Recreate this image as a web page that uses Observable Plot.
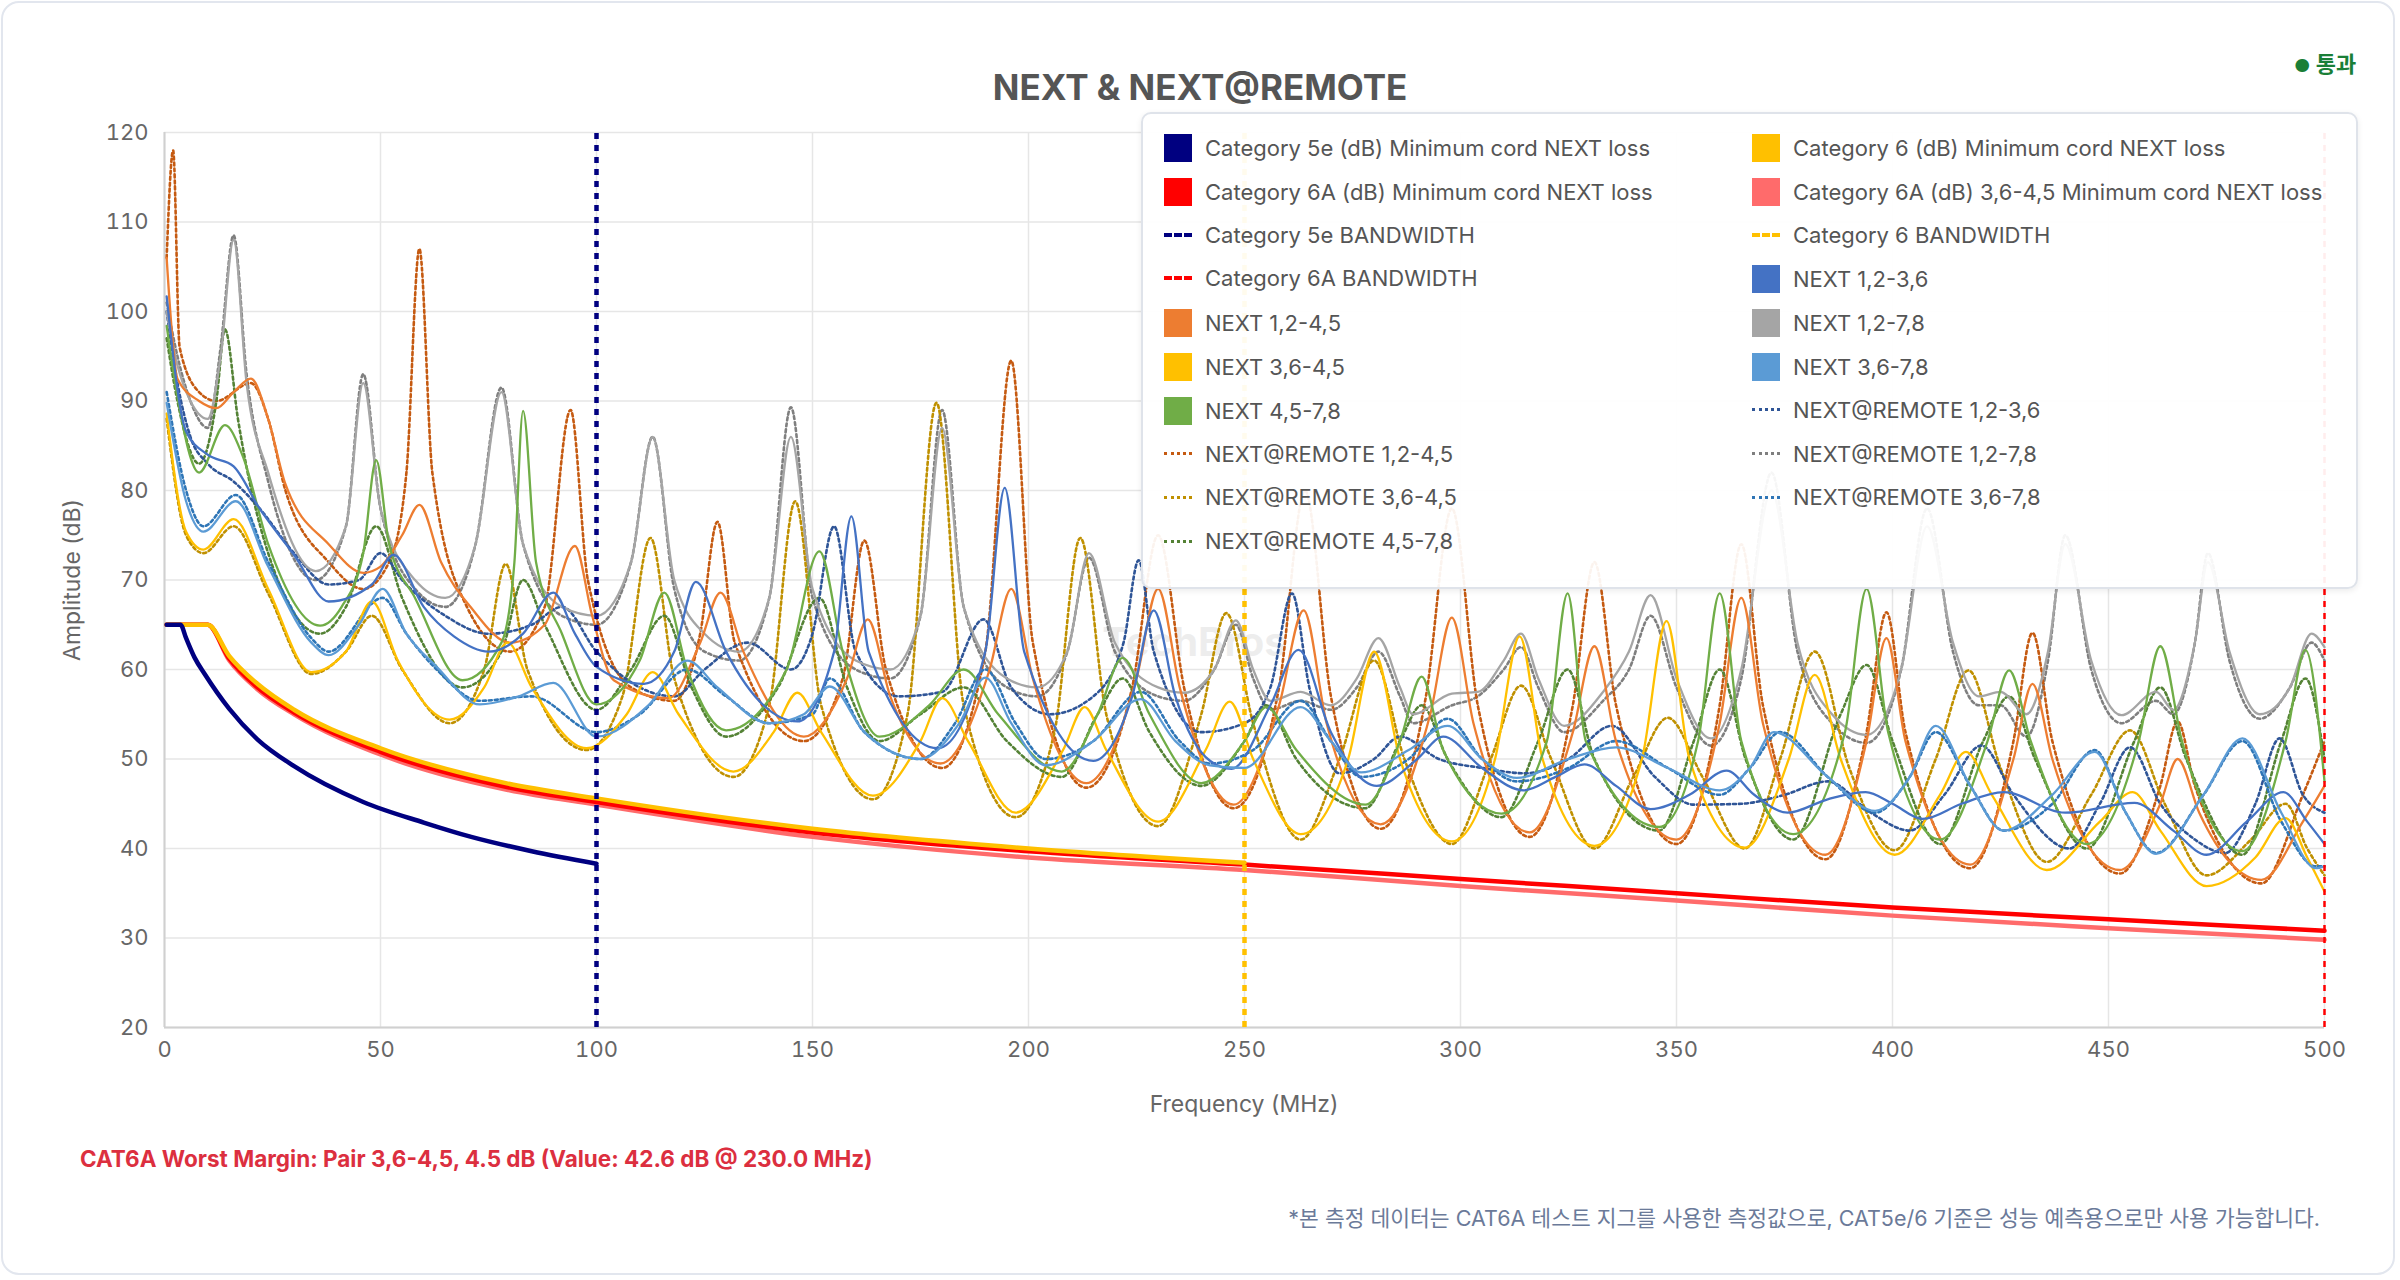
<!DOCTYPE html>
<html><head><meta charset="utf-8">
<script src="https://cdn.jsdelivr.net/npm/d3@7"></script>
<script src="https://cdn.jsdelivr.net/npm/@observablehq/plot@0.6"></script>
<style>
body{margin:0;background:#fff;font-family:Inter,"Noto Sans CJK KR",sans-serif;}
#wrap{position:relative;width:2400px;height:1280px;overflow:hidden;}
#card{position:absolute;left:1px;top:1px;width:2394px;height:1274px;border:2px solid #e2e6ee;border-radius:18px;box-sizing:border-box;}
.abs{position:absolute;white-space:nowrap;}
#legend{position:absolute;left:1141px;top:112px;width:1217px;height:477px;background:rgba(255,255,255,0.93);border:2px solid #dfe3ea;border-radius:10px;box-sizing:border-box;box-shadow:0 2px 6px rgba(0,0,0,0.08);}
.li{position:absolute;font-size:22px;color:#555;display:flex;align-items:center;}
.sw{width:28px;height:28px;margin-right:13px;}
.ln{width:28px;height:0;margin-right:13px;}
</style></head><body>
<div id="wrap"><div id="card"></div><div id="chart" class="abs" style="left:0;top:0"></div></div>
<script>
const freqTicks = [0,50,100,150,200,250,300,350,400,450,500];
const dbTicks = [20,30,40,50,60,70,80,90,100,110,120];
const bandwidth = [100,250,500];
const cat5e = [[0.5,65],[3.7,65],[5,63.5],[7,61.3],[9.3,59.5],[15,55.6],[21.5,52.2],[30,49.2],[46,45.2],[60,42.9],[71,41.3],[85,39.7],[100,38.3]];
const cat6 = [[0.5,65],[10,65],[15,61.5],[21.5,58.4],[30,55.5],[50,51.2],[79,47.3],[100,45.6],[150,42.2],[200,40],[250,38.4]];
const cat6A = [[0.5,65],[10,65],[15,61.2],[21.5,58],[30,55.2],[50,50.8],[79,46.9],[100,45.2],[150,41.8],[200,39.7],[250,38.2],[300,36.6],[350,35.0],[400,33.4],[450,32.1],[500,30.8]];
const cat6A_3645 = [[0.5,65],[10,65],[15,61],[21.5,57.8],[30,55],[50,50.5],[79,46.6],[100,44.9],[150,41.3],[200,39],[250,37.6],[300,35.8],[350,34.2],[400,32.5],[450,31.1],[500,29.8]];
const next12_36 = [[0.5,101.7],[5,86.6],[10,84],[16,82.7],[22,78],[30,72.8],[38,67.6],[48,69.5],[53,72.8],[60,67],[67,63.7],[75,62],[83,64],[90,68.6],[95,64],[100,60.3],[111,58.4],[118,62],[123,69.8],[130,62],[146.5,54.2],[155,62],[159,77.1],[163,62],[179,51.2],[190,62],[194.5,80.3],[199,62],[215,49.8],[224,57],[229,66.6],[234,57],[242,49.8],[247,48.9],[256,56],[262.5,62.2],[270,53],[280.6,47],[290,50],[296,52.5],[305,49],[314.6,46.5],[322,48],[328.7,49.4],[336,47],[344,44.4],[353,46],[361.6,48.7],[368,46],[375.7,44],[385,45.5],[393.8,46.3],[400,45],[407,43.3],[416,45],[425.7,46.3],[440,44],[456,45.1],[465,42],[472.7,39.3],[482,43],[490.5,46.3],[496,43],[500,40.5]];
const next12_45 = [[0.5,106],[3,92.5],[8,90],[12,89.2],[16,91],[20,92.5],[24,88],[28,80.7],[38,74],[46,70.8],[50,71.5],[55,75],[59,78.4],[64,72],[71,66.9],[80,63],[88,65],[95,73.8],[99,66],[104,58.8],[116.7,56.8],[124,63],[128.7,68.6],[134,62],[148,52.5],[158,59],[162.8,65.6],[168,57],[179.6,49.5],[191,60],[196,69],[201,59],[213.4,47.3],[225,59],[230,69],[235,58],[247.5,44.9],[258,56],[263.7,66.6],[269,54],[281.5,42.7],[293,55],[298,65.8],[303,54],[316,41.8],[326,53],[331,62.6],[336,52],[350,41],[360,54],[365,68],[370,54],[384.5,39.3],[394,52],[398.6,63.5],[403,52],[418,38.2],[428,50],[432.4,58.4],[437,50],[452.6,37.6],[462,45],[466,50],[471,44],[485.4,36.5],[495,43],[500,47]];
const next12_78 = [[0.5,100],[3,94],[6,90],[10,88],[13,95],[16,108],[19,92],[24,82],[35,71],[42,76],[46,92],[50,78],[58,70],[65,68],[72,74],[78,91],[83,74],[92,67],[100,66],[108,72],[113,86],[118,70],[125,64],[133,62],[140,68],[145,86],[150,69],[160,61],[168,60],[175,66],[180,87],[185,67],[195,59],[202,58],[209,62],[214,73],[220,63],[230,58],[236,57.4],[243,60],[248,65.5],[252,60],[256,56.5],[263,57.5],[270,56],[276,59],[281,63.5],[286,58],[289,55],[298,57.3],[304,57.5],[310,61],[314,64],[318,59],[324,53.7],[333,57.5],[339,62],[344,68.3],[350,59],[358,52.3],[365,60],[372,80],[378,63],[386,55],[394,52.7],[402,60],[408,76],[414,63],[420,57],[425,57.5],[431,55],[436,62],[440,74],[446,61],[453,54.9],[461,57.5],[465,55.5],[470,63],[473,72],[478,62],[485,55],[492,58],[497,64],[500,62.5]];
const next36_45 = [[0.5,88.6],[5,75.4],[9,73.4],[16,76.8],[24,69],[34,59.7],[42,62],[48,67.6],[54,61],[66,54.4],[74,58],[79.4,63],[85,58],[97.7,51.2],[107,55],[113,59.7],[119,55],[131.7,48.6],[141,53],[146.5,57.4],[152,53],[164,45.9],[175,52],[180,56.8],[186,52],[197,44],[208,51],[213,55.8],[218,51],[230,43],[241,51],[246.6,56.4],[252,50],[263,41.6],[274,50],[280,62],[286,50],[298,40.8],[308,50],[313.7,63.7],[319,50],[331,40.3],[342,50],[347.7,65.4],[353,50],[365.8,40.1],[376,50],[382,59.4],[388,50],[400.5,39.3],[411,46],[417,50.8],[423,46],[435.7,37.6],[448,43],[455.6,46.3],[462,42],[472.7,35.8],[484,39],[491,43.4],[496,39],[500,35.2]];
const next36_78 = [[0.5,89.8],[5,78.8],[9,75.4],[16.5,78.8],[24,71.5],[34,63],[38,61.6],[45,65],[50.5,69],[56,64],[63,60.3],[73,56.1],[82,57],[90,58.5],[100,52.5],[112,56],[121,61],[128,58],[140,54],[148,55],[154,58.1],[162,53],[175,50],[184,54],[190,59.1],[196,54],[204,49.3],[215,52],[226,56.7],[234,52],[242,49.3],[250,49],[263,55.8],[270,52],[277,48.5],[288,51],[297,53.7],[305,50],[313,47.9],[325,50],[336,51.3],[348,49],[360,46.5],[367,49],[372.5,53],[385,48],[396,44.2],[404,48],[410,53.7],[418,47],[425.7,42],[437,46],[446.8,50.8],[454,44],[461,39.4],[472,46],[481,52.3],[490,44],[498,37.8],[500,38]];
const next45_78 = [[0.5,98.4],[3,90.5],[8,82],[14,87.3],[18,84],[24,74],[36,64.9],[41,67],[46,73],[49,83.4],[52,74],[58,68],[69,58.8],[78,63],[81,72],[83,88.9],[86,72],[92,64],[100,56.1],[110,61],[115.7,68.6],[121,60],[130,53.2],[144,60],[151.6,73.2],[157,62],[165.5,52.5],[177,56],[185,60],[193,55],[207.7,48.6],[216,55],[221.8,61.3],[228,55],[240,47.3],[250,52],[255,55.8],[262,51],[278,44.9],[286,52],[291,59.2],[296,51],[309.5,43.9],[320,52],[324.8,68.5],[329,52],[346,42.4],[355,52],[360,68.5],[365,52],[377,41.6],[389,53],[394,69],[399,53],[411,41],[422,52],[427,59.9],[432,52],[445,40.5],[457,52],[462,62.6],[467,52],[481,39.7],[491,52],[495.6,62.2],[500,47.5]];
const remote12_36 = [[0.5,100],[3,92],[6,86],[10,83],[16,81],[22,78],[30,73],[38,69.5],[45,70],[50,73],[55,70],[65,66],[75,64],[85,65],[92,67],[100,62],[110,58],[118,57],[125,60],[135,63],[145,60],[150,64],[155,76],[160,62],[170,57],[180,57.5],[189.6,65.6],[196,58],[205,55],[215,57],[222,63],[225.5,72.2],[229,62],[240,53],[250,54],[256,58],[261,68.5],[265,58],[272,48.4],[280,50],[286,52.5],[295,50],[305,49],[315,48.4],[325,50],[335,53.7],[345,48],[354,44.9],[365,45],[375,46],[385,47.5],[395,44],[404,42],[412,46],[420.6,51.5],[428,46],[441,40],[448,45],[455,51.3],[462,45],[470,41],[477,39.5],[484,45],[489.6,52.3],[495,46],[500,44]];
const remote12_45 = [[0.5,106],[2,118],[3.5,96],[8,91],[12,90],[20,92],[24,88],[28,80],[38,72],[46,69],[52,72],[56,82],[59,107],[62,82],[70,67],[80,62],[88,67],[94,89],[98,70],[108,58],[118,56.5],[124,64],[128,76.5],[132,63],[148,52],[157,59],[162,74.4],[167,60],[180,49],[190,62],[196,94.5],[201,63],[213.4,46.8],[224,58],[230,75],[236,58],[247.5,44.5],[258,58],[264,80],[270,57],[281.5,42.2],[292,57],[298,78],[304,56],[316,41.3],[326,56],[331,72],[336,56],[350,40.5],[360,56],[365,74],[370,56],[384.5,38.8],[394,53],[398.6,66.4],[403,53],[418,37.8],[428,52],[432.4,64.1],[437,52],[452.6,37.2],[462,47],[466,54.2],[470,47],[485.4,36.1],[495,46],[500,52]];
const remote12_78 = [[0.5,101],[3,95],[6,90],[10,87],[13,96],[16,108.5],[19,93],[24,81],[35,70],[42,76],[46,93],[50,78],[58,69],[65,67],[72,74],[78,91.5],[83,74],[92,66],[100,65],[108,72],[113,86],[118,69],[125,62],[133,61],[140,68],[145,89.3],[150,68],[160,60],[168,59],[175,66],[180,89],[185,67],[195,58],[202,57],[209,62],[214,72.5],[220,62],[230,57],[236,56.5],[243,60],[248,65],[252,59],[256,55.5],[263,56.5],[270,55.5],[276,58],[281,62],[286,57],[289,54],[298,56],[304,57],[310,60],[314,62.5],[318,58],[324,53],[333,56.5],[339,60],[344,66],[350,58],[358,51.5],[365,59],[372,82],[378,62],[386,54],[394,51.8],[402,60],[408,78],[414,62],[420,56],[425,56],[431,52.5],[436,61],[440,75],[446,60],[453,54],[461,56.5],[465,55],[470,63],[473,73],[478,61],[485,54.5],[492,58],[497,63],[500,61]];
const remote36_45 = [[0.5,88],[5,75],[9,73],[16,76],[24,68.5],[34,59.5],[42,62],[48,66],[55,60],[66,54],[74,60],[79,71.8],[84,60],[97.7,51],[106,57],[112.5,74.7],[118,59],[131.7,48],[140,56],[146,78.8],[152,56],[164,45.5],[172,55],[178.7,89.8],[185,56],[197,43.5],[206,53],[212,74.7],[218,55],[230,42.5],[240,55],[245.8,66.3],[252,54],[263,41],[272,50],[280,61],[287,50],[298,40.5],[307,50],[314,58.2],[321,50],[331,40],[340,48],[348,54.6],[356,48],[365.8,40],[374,50],[382,62],[390,49],[400.5,39.8],[410,50],[417.6,59.9],[425,49],[435.7,38.5],[446,46],[455,53.2],[463,45],[472.7,37],[483,41],[491,45],[496,40],[500,37]];
const remote36_78 = [[0.5,91],[5,80],[9,76],[16.5,79.5],[24,72],[34,63.5],[38,62],[50.5,68],[56,64],[63,60],[73,56.5],[85,57],[100,53],[110,55],[121,60],[130,57],[140,54],[150,55],[154,59],[162,53],[175,50],[183,54],[190,60],[197,54],[204,50],[215,52],[226,57.5],[235,52],[242,49.5],[252,51],[263,56.5],[270,52],[277,48],[288,50],[297,54.5],[305,50],[313,47.5],[325,49],[336,52],[348,49],[360,46],[367,49],[374,53],[385,48],[396,44],[404,48],[410,53],[418,47],[425.7,42],[437,45],[446.8,51],[454,44],[461,39.5],[472,46],[481,52],[490,43],[498,38],[500,38]];
const remote45_78 = [[0.5,97],[3,90],[8,83],[12,90],[14,98],[17,88],[24,73],[36,64],[42,67],[49,76],[55,68],[69,58],[78,62],[83,70],[88,65],[100,55.5],[108,60],[115.7,66],[122,58],[130,52.5],[142,58],[151.6,68],[158,58],[165.5,52],[175,55],[185,58],[195,52],[207.7,48],[216,55],[221.8,59],[228,53],[240,47],[250,52],[255,56],[262,50],[278,44.5],[286,52],[291,56],[297,50],[309.5,43.5],[318,52],[324.8,60],[331,50],[346,42],[354,52],[360,60],[366,50],[377,41],[388,55],[394,60.5],[400,52],[411,40.5],[421,52],[427,57],[433,50],[445,40],[456,52],[462,58],[468,50],[481,39.3],[490,52],[495.6,59],[500,50]];

const series = [
 {name:"NEXT@REMOTE 1,2-7,8", d:remote12_78, c:"#7f7f7f", dash:"3,3", w:2.6},
 {name:"NEXT@REMOTE 1,2-4,5", d:remote12_45, c:"#c55a11", dash:"3,3", w:2.6},
 {name:"NEXT@REMOTE 3,6-4,5", d:remote36_45, c:"#bf9000", dash:"3,3", w:2.6},
 {name:"NEXT@REMOTE 4,5-7,8", d:remote45_78, c:"#548235", dash:"3,3", w:2.6},
 {name:"NEXT@REMOTE 1,2-3,6", d:remote12_36, c:"#2f5597", dash:"3,3", w:2.6},
 {name:"NEXT@REMOTE 3,6-7,8", d:remote36_78, c:"#2e75b6", dash:"3,3", w:2.6},
 {name:"NEXT 1,2-7,8", d:next12_78, c:"#a5a5a5", w:2.3},
 {name:"NEXT 1,2-4,5", d:next12_45, c:"#ed7d31", w:2.3},
 {name:"NEXT 3,6-4,5", d:next36_45, c:"#ffc000", w:2.3},
 {name:"NEXT 4,5-7,8", d:next45_78, c:"#70ad47", w:2.3},
 {name:"NEXT 1,2-3,6", d:next12_36, c:"#4472c4", w:2.3},
 {name:"NEXT 3,6-7,8", d:next36_78, c:"#5b9bd5", w:2.3}
];
const limits = [
 {name:"Category 6A (dB) 3,6-4,5 Minimum cord NEXT loss", d:cat6A_3645, c:"#ff6b6b", w:4.5},
 {name:"Category 6A (dB) Minimum cord NEXT loss", d:cat6A, c:"#ff0000", w:4.5},
 {name:"Category 6 (dB) Minimum cord NEXT loss", d:cat6, c:"#ffc000", w:4.5},
 {name:"Category 5e (dB) Minimum cord NEXT loss", d:cat5e, c:"#000080", w:4.5}
];
const bwColors = ["#000080","#ffc000","#ff0000"];
const bwRows = bandwidth.map((f,i)=>({f, c:bwColors[i], w: i<2?4.5:2.5}));

const marks = [
  Plot.gridX(freqTicks,{stroke:"#e6e6e6",strokeOpacity:1,strokeWidth:1.5}),
  Plot.gridY(dbTicks,{stroke:"#e6e6e6",strokeOpacity:1,strokeWidth:1.5}),
  Plot.ruleX([0],{stroke:"#d0d0d0",strokeWidth:2}),
  Plot.ruleY([20],{stroke:"#d0d0d0",strokeWidth:2}),
  Plot.axisX({ticks:freqTicks,tickSize:0,tickPadding:14,fontSize:22,color:"#666",label:null}),
  Plot.axisY({ticks:dbTicks,tickSize:0,tickPadding:16,fontSize:22,color:"#666",label:null}),
  Plot.text(["TechBros"],{frameAnchor:"middle",dx:-50,dy:63,fontSize:40,fill:"#ccc",fillOpacity:0.35,fontWeight:"bold"})
];
for (const s of series) {
  marks.push(Plot.line(s.d,{x:d=>d[0],y:d=>d[1],stroke:s.c,strokeWidth:s.w,strokeDasharray:s.dash,curve:"monotone-x"}));
}
for (const s of limits) {
  marks.push(Plot.line(s.d,{x:d=>d[0],y:d=>d[1],stroke:s.c,strokeWidth:s.w,curve:"monotone-x"}));
}
for (const b of bwRows) {
  marks.push(Plot.ruleX([b.f],{y1:20,y2:120,stroke:b.c,strokeWidth:b.w,strokeDasharray:"6,6"}));
}
const chart = Plot.plot({
  width:2400,height:1280,marginLeft:164,marginRight:76,marginTop:132,marginBottom:253,
  x:{domain:[0,500]},y:{domain:[20,120]},
  style:{background:"transparent",fontFamily:"Inter, sans-serif"},
  marks
});
document.getElementById("chart").appendChild(chart);

const wrap = document.getElementById("wrap");
function add(html, style){const e=document.createElement("div");e.className="abs";e.innerHTML=html;e.style.cssText+=style;wrap.appendChild(e);return e;}
add("NEXT &amp; NEXT@REMOTE","left:0;width:2400px;text-align:center;top:66px;font-size:35px;font-weight:700;color:#555;");
add("Frequency (MHz)","top:1090px;font-size:23px;color:#666;width:400px;text-align:center;left:1044px;");
add("Amplitude (dB)","left:72px;top:580px;font-size:23px;color:#666;transform:translate(-50%,-50%) rotate(-90deg);");
add("CAT6A Worst Margin: Pair 3,6-4,5, 4.5 dB (Value: 42.6 dB @ 230.0 MHz)","left:80px;top:1145px;font-size:22.5px;font-weight:700;color:#dc2f3f;");
add("*본 측정 데이터는 CAT6A 테스트 지그를 사용한 측정값으로, CAT5e/6 기준은 성능 예측용으로만 사용 가능합니다.","right:80px;top:1201px;font-size:21.5px;color:#6b7a99;");
add("<span style='font-size:18px'>●</span> 통과","left:2294px;top:46px;font-size:22px;font-weight:700;color:#1a7f37;");

const legend = [
 ["Category 5e (dB) Minimum cord NEXT loss","box","#000080"],["Category 6 (dB) Minimum cord NEXT loss","box","#ffc000"],
 ["Category 6A (dB) Minimum cord NEXT loss","box","#ff0000"],["Category 6A (dB) 3,6-4,5 Minimum cord NEXT loss","box","#ff6b6b"],
 ["Category 5e BANDWIDTH","dash","#000080"],["Category 6 BANDWIDTH","dash","#ffc000"],
 ["Category 6A BANDWIDTH","dash","#ff0000"],["NEXT 1,2-3,6","box","#4472c4"],
 ["NEXT 1,2-4,5","box","#ed7d31"],["NEXT 1,2-7,8","box","#a5a5a5"],
 ["NEXT 3,6-4,5","box","#ffc000"],["NEXT 3,6-7,8","box","#5b9bd5"],
 ["NEXT 4,5-7,8","box","#70ad47"],["NEXT@REMOTE 1,2-3,6","dot","#2f5597"],
 ["NEXT@REMOTE 1,2-4,5","dot","#c55a11"],["NEXT@REMOTE 1,2-7,8","dot","#7f7f7f"],
 ["NEXT@REMOTE 3,6-4,5","dot","#bf9000"],["NEXT@REMOTE 3,6-7,8","dot","#2e75b6"],
 ["NEXT@REMOTE 4,5-7,8","dot","#548235"]
];
const lg=document.createElement("div");lg.id="legend";wrap.appendChild(lg);
legend.forEach((it,i)=>{
  const col=i%2,row=Math.floor(i/2);
  const e=document.createElement("div");e.className="li";
  e.style.left=(col?609:21)+"px";e.style.top=(20+row*43.8)+"px";
  let sw;
  if(it[1]==="box") sw=`<div class="sw" style="background:${it[2]}"></div>`;
  else if(it[1]==="dash") sw=`<div class="ln" style="border-top:4px dashed ${it[2]};width:28px;"></div>`;
  else sw=`<div class="ln" style="border-top:3px dotted ${it[2]}"></div>`;
  e.innerHTML=sw+`<span>${it[0]}</span>`;
  lg.appendChild(e);
});
</script></body></html>
